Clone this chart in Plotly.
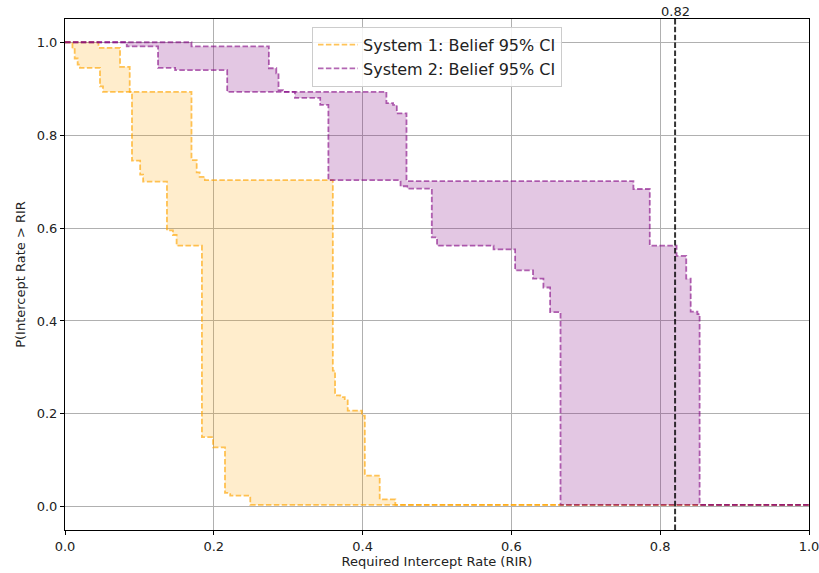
import plotly.graph_objects as go

# ---- data (step curves: value holds from x[i] until x[i+1]) ----
X_MAX = 1.0
THRESHOLD = 0.82

S1_LOWER_X = [0.0, 0.010, 0.013, 0.017, 0.020, 0.047, 0.051, 0.090, 0.101, 0.105,
              0.137, 0.145, 0.150, 0.184, 0.199, 0.215, 0.222, 0.249]
S1_LOWER_Y = [1.0, 0.985, 0.965, 0.952, 0.945, 0.905, 0.893, 0.745, 0.715, 0.700,
              0.595, 0.585, 0.562, 0.150, 0.128, 0.030, 0.024, 0.004]

S1_UPPER_X = [0.0, 0.045, 0.074, 0.087, 0.170, 0.177, 0.181, 0.188, 0.360, 0.363,
              0.370, 0.376, 0.380, 0.399, 0.403, 0.423, 0.444]
S1_UPPER_Y = [1.0, 0.988, 0.947, 0.893, 0.746, 0.720, 0.710, 0.703, 0.293, 0.240,
              0.236, 0.229, 0.207, 0.196, 0.067, 0.016, 0.004]

S2_LOWER_X = [0.0, 0.083, 0.125, 0.148, 0.218, 0.309, 0.343, 0.354, 0.451, 0.460,
              0.493, 0.500, 0.576, 0.605, 0.629, 0.643, 0.652, 0.666]
S2_LOWER_Y = [1.0, 0.991, 0.945, 0.940, 0.893, 0.880, 0.865, 0.703, 0.690, 0.685,
              0.580, 0.562, 0.554, 0.509, 0.491, 0.472, 0.419, 0.004]

S2_UPPER_X = [0.0, 0.170, 0.274, 0.284, 0.287, 0.293, 0.432, 0.441, 0.446, 0.459,
              0.764, 0.786, 0.822, 0.835, 0.841, 0.850, 0.853]
S2_UPPER_Y = [1.0, 0.991, 0.944, 0.933, 0.897, 0.893, 0.869, 0.865, 0.847, 0.701,
              0.684, 0.562, 0.540, 0.491, 0.420, 0.415, 0.004]

SERIES = [
    ("System 1: Belief 95% CI", S1_LOWER_X, S1_LOWER_Y, S1_UPPER_X, S1_UPPER_Y,
     "rgba(255,165,0,0.20)", "rgba(255,165,0,0.65)"),
    ("System 2: Belief 95% CI", S2_LOWER_X, S2_LOWER_Y, S2_UPPER_X, S2_UPPER_Y,
     "rgba(128,0,128,0.22)", "rgba(128,0,128,0.60)"),
]


def step_path(xs, ys, x_end):
    px, py = [], []
    for i, (x, y) in enumerate(zip(xs, ys)):
        nx = xs[i + 1] if i + 1 < len(xs) else x_end
        px += [x, nx]
        py += [y, y]
    return px, py


fig = go.Figure()
FONT = "DejaVu Sans"
DASH = "5.5px,2.4px"

for name, lx, ly, ux, uy, fill_c, line_c in SERIES:
    upx, upy = step_path(ux, uy, X_MAX)
    lpx, lpy = step_path(lx, ly, X_MAX)
    fig.add_trace(go.Scatter(
        x=upx + lpx[::-1], y=upy + lpy[::-1], mode="lines", fill="toself",
        fillcolor=fill_c, line=dict(width=0), hoverinfo="skip", showlegend=False))
    fig.add_trace(go.Scatter(
        x=upx, y=upy, mode="lines", name=name,
        line=dict(color=line_c, width=1.8, dash=DASH), showlegend=True))
    fig.add_trace(go.Scatter(
        x=lpx, y=lpy, mode="lines", name=name,
        line=dict(color=line_c, width=1.8, dash=DASH), showlegend=False))

fig.add_shape(type="line", xref="x", yref="paper", x0=THRESHOLD, x1=THRESHOLD,
              y0=0, y1=1, line=dict(color="rgba(0,0,0,0.8)", width=2, dash="5.5px,2.4px"))
fig.add_annotation(x=THRESHOLD, y=1, xref="x", yref="paper", text=f"{THRESHOLD:.2f}",
                   showarrow=False, yanchor="bottom", yshift=-2,
                   font=dict(family=FONT, size=13, color="#222"))

axis_common = dict(
    showline=True, mirror=True, linecolor="black", linewidth=1,
    ticks="outside", ticklen=4, tickcolor="black",
    showgrid=True, gridcolor="#b0b0b0", gridwidth=1, zeroline=False,
    tickfont=dict(family=FONT, size=13, color="#222"), tickformat=".1f",
    automargin=False, ticklabeloverflow="allow",
)

fig.update_layout(
    width=819, height=573,
    margin=dict(l=65, r=10, t=19, b=43),
    plot_bgcolor="white", paper_bgcolor="white",
    font=dict(family=FONT, size=13, color="#222"),
    xaxis=dict(range=[0, 1], tick0=0, dtick=0.2,
               title=dict(text="Required Intercept Rate (RIR)", standoff=4,
                          font=dict(family=FONT, size=13, color="#222")),
               **axis_common),
    yaxis=dict(range=[-0.05, 1.05], tick0=0, dtick=0.2,
               title=dict(text="P(Intercept Rate > RIR", standoff=8,
                          font=dict(family=FONT, size=13, color="#222")),
               **axis_common),
    legend=dict(x=0.332, y=0.985, xanchor="left", yanchor="top",
                itemwidth=40, tracegroupgap=0,
                bgcolor="rgba(255,255,255,0.85)", bordercolor="#cccccc", borderwidth=1,
                font=dict(family=FONT, size=16, color="#222")),
    showlegend=True,
)

fig.write_html("out.html")
